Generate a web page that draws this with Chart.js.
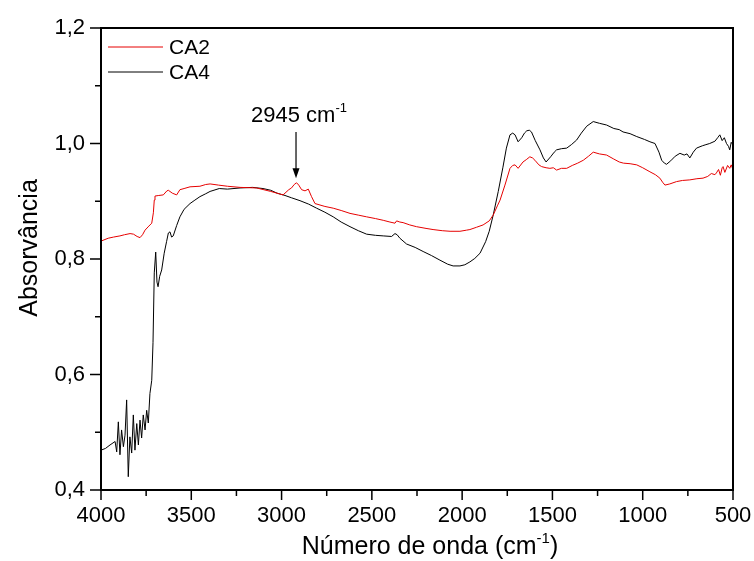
<!DOCTYPE html>
<html>
<head>
  <title>FTIR CA2 / CA4</title>
  <script src="https://cdn.jsdelivr.net/npm/chart.js"></script>
  <style>body { margin: 0; background: #fff; }</style>
</head>
<body>
  <canvas id="ftirChart" width="754" height="561"></canvas>

  <script>
    // CA2 (red) - wavenumber / absorbance
    const ca2Wave = [4000, 3960, 3930, 3895, 3870, 3839, 3820, 3800, 3784, 3770, 3756, 3735, 3719, 3710, 3705, 3701,
      3680, 3655, 3635, 3627, 3605, 3581, 3563, 3540, 3507, 3452, 3420, 3396, 3350, 3300, 3230, 3138, 3060, 2992,
      2981, 2960, 2945, 2930, 2917, 2905, 2889, 2870, 2852, 2834, 2815, 2760, 2714, 2670, 2621, 2575, 2529, 2480,
      2437, 2400, 2372, 2363, 2345, 2327, 2290, 2253, 2200, 2161, 2110, 2067, 2012, 1975, 1957, 1920, 1884, 1850,
      1828, 1805, 1790, 1763, 1735, 1720, 1707, 1690, 1663, 1645, 1625, 1610, 1597, 1575, 1560, 1535, 1514, 1495,
      1477, 1450, 1421, 1390, 1360, 1329, 1300, 1274, 1240, 1200, 1160, 1130, 1107, 1070, 1033, 1000, 960, 930,
      905, 890, 877, 850, 813, 780, 739, 700, 666, 640, 620, 600, 592, 580, 570, 560, 555, 545, 530, 518, 510, 500];
    const ca2Abs = [0.831, 0.836, 0.838, 0.840, 0.842, 0.844, 0.843, 0.839, 0.837, 0.842, 0.850, 0.857, 0.862, 0.880, 0.902, 0.909,
      0.910, 0.911, 0.918, 0.919, 0.914, 0.911, 0.920, 0.922, 0.925, 0.926, 0.929, 0.930, 0.928, 0.926, 0.924, 0.923, 0.917, 0.911,
      0.914, 0.920, 0.923, 0.929, 0.932, 0.928, 0.920, 0.918, 0.921, 0.908, 0.896, 0.891, 0.888, 0.884, 0.879, 0.876, 0.873, 0.870,
      0.867, 0.864, 0.862, 0.866, 0.864, 0.863, 0.859, 0.856, 0.853, 0.851, 0.849, 0.848, 0.848, 0.850, 0.851, 0.855, 0.859, 0.866,
      0.876, 0.892, 0.902, 0.928, 0.957, 0.962, 0.963, 0.957, 0.968, 0.972, 0.977, 0.975, 0.971, 0.963, 0.960, 0.958, 0.957, 0.958,
      0.954, 0.957, 0.957, 0.962, 0.966, 0.971, 0.978, 0.985, 0.982, 0.980, 0.973, 0.968, 0.966, 0.965, 0.963, 0.958, 0.951, 0.946,
      0.940, 0.933, 0.928, 0.930, 0.934, 0.936, 0.937, 0.939, 0.940, 0.943, 0.948, 0.946, 0.949, 0.955, 0.945, 0.958, 0.960, 0.950, 0.962, 0.957, 0.963, 0.955];

    // CA4 (black)
    const ca4Wave = [4000, 3975, 3950, 3922, 3913, 3904, 3895, 3886, 3876, 3867, 3858, 3849, 3840, 3830, 3821, 3812,
      3802, 3793, 3784, 3775, 3766, 3756, 3747, 3738, 3729, 3719, 3712, 3705, 3697, 3690, 3684, 3675, 3664, 3650,
      3637, 3627, 3618, 3609, 3600, 3581, 3563, 3540, 3507, 3480, 3452, 3420, 3396, 3345, 3300, 3230, 3160, 3103,
      3060, 3025, 2981, 2945, 2898, 2850, 2806, 2760, 2714, 2670, 2621, 2575, 2529, 2480, 2437, 2391, 2372, 2360,
      2345, 2308, 2260, 2216, 2170, 2123, 2080, 2050, 2012, 1985, 1957, 1930, 1901, 1870, 1850, 1828, 1800, 1774,
      1755, 1735, 1720, 1707, 1690, 1670, 1655, 1642, 1628, 1616, 1595, 1569, 1550, 1535, 1510, 1490, 1477, 1450,
      1421, 1395, 1366, 1340, 1310, 1274, 1240, 1200, 1160, 1130, 1109, 1070, 1033, 990, 960, 932, 910, 895, 880,
      868, 845, 820, 794, 770, 755, 739, 720, 702, 670, 650, 629, 600, 585, 573, 560, 548, 536, 525, 518, 510, 500];
    const ca4Abs = [0.469, 0.472, 0.478, 0.484, 0.466, 0.518, 0.461, 0.504, 0.475, 0.495, 0.556, 0.423, 0.492, 0.464, 0.530, 0.469,
      0.515, 0.478, 0.521, 0.490, 0.530, 0.504, 0.538, 0.516, 0.567, 0.590, 0.655, 0.776, 0.812, 0.760, 0.752, 0.770, 0.781, 0.810,
      0.830, 0.845, 0.847, 0.838, 0.840, 0.858, 0.873, 0.886, 0.896, 0.902, 0.908, 0.913, 0.917, 0.922, 0.921, 0.923, 0.924, 0.922,
      0.919, 0.914, 0.910, 0.906, 0.901, 0.895, 0.888, 0.881, 0.873, 0.864, 0.856, 0.849, 0.843, 0.841, 0.840, 0.839, 0.844, 0.842,
      0.836, 0.826, 0.820, 0.813, 0.806, 0.798, 0.791, 0.788, 0.788, 0.790, 0.795, 0.801, 0.810, 0.830, 0.848, 0.876, 0.917, 0.959,
      0.992, 1.015, 1.018, 1.015, 1.003, 1.010, 1.018, 1.022, 1.023, 1.020, 1.005, 0.989, 0.975, 0.968, 0.977, 0.985, 0.989, 0.991,
      0.992, 0.998, 1.006, 1.018, 1.030, 1.038, 1.035, 1.032, 1.026, 1.024, 1.020, 1.017, 1.012, 1.007, 1.003, 1.000, 0.985, 0.971, 0.966,
      0.964, 0.970, 0.978, 0.983, 0.980, 0.982, 0.975, 0.985, 0.992, 0.996, 0.998, 1.000, 1.004, 1.010, 1.015, 1.005, 1.010, 1.000, 0.995, 0.989, 1.002, 0.998];

    const seriesNames = ['CA2', 'CA4'];
    const seriesColors = ['#e60000', '#000000'];

    const xTicks = [4000, 3500, 3000, 2500, 2000, 1500, 1000, 500];
    const yTicks = [0.4, 0.6, 0.8, 1.0, 1.2];

    const xTitle = 'Número de onda (cm';
    const yTitle = 'Absorvância';

    // arrow annotation over the CA2 band
    const peakText = '2945 cm';
    const peakWave = 2920;
    const peakTail = 1.02;
    const peakTip = 0.94;

    const FONT = "'Liberation Sans', Arial, sans-serif";

    const toPoints = (xs, ys) => xs.map((x, i) => ({ x: x, y: ys[i] }));

    const decorPlugin = {
      id: 'decor',
      afterDraw(chart) {
        const { ctx, chartArea: a, scales: { x, y } } = chart;
        ctx.save();
        ctx.strokeStyle = '#000';
        ctx.fillStyle = '#000';

        // frame
        ctx.lineWidth = 2;
        ctx.strokeRect(a.left, a.top, a.right - a.left, a.bottom - a.top);

        // major + minor ticks
        ctx.lineWidth = 1.5;
        ctx.beginPath();
        xTicks.forEach((v, i) => {
          const px = x.getPixelForValue(v);
          ctx.moveTo(px, a.bottom); ctx.lineTo(px, a.bottom + 10);
          if (i < xTicks.length - 1) {
            const mx = x.getPixelForValue((v + xTicks[i + 1]) / 2);
            ctx.moveTo(mx, a.bottom); ctx.lineTo(mx, a.bottom + 6);
          }
        });
        yTicks.forEach((v, i) => {
          const py = y.getPixelForValue(v);
          ctx.moveTo(a.left, py); ctx.lineTo(a.left - 11, py);
          if (i < yTicks.length - 1) {
            const my = y.getPixelForValue((v + yTicks[i + 1]) / 2);
            ctx.moveTo(a.left, my); ctx.lineTo(a.left - 6, my);
          }
        });
        ctx.stroke();

        // x title with superscript
        ctx.font = '25px ' + FONT;
        const w1 = ctx.measureText(xTitle).width;
        ctx.font = '15px ' + FONT;
        const wSup = ctx.measureText('-1').width;
        ctx.font = '25px ' + FONT;
        const w2 = ctx.measureText(')').width;
        const tx = (a.left + a.right) / 2 + 13 - (w1 + wSup + w2) / 2;
        const ty = 554;
        ctx.textAlign = 'left';
        ctx.textBaseline = 'alphabetic';
        ctx.fillText(xTitle, tx, ty);
        ctx.font = '15px ' + FONT;
        ctx.fillText('-1', tx + w1, ty - 11);
        ctx.font = '25px ' + FONT;
        ctx.fillText(')', tx + w1 + wSup, ty);

        // y title
        ctx.save();
        ctx.translate(30, 248);
        ctx.rotate(-Math.PI / 2);
        ctx.textAlign = 'center';
        ctx.textBaseline = 'middle';
        ctx.fillText(yTitle, 0, 0);
        ctx.restore();

        // legend
        ctx.font = '21px ' + FONT;
        ctx.textBaseline = 'middle';
        ctx.lineWidth = 1;
        seriesNames.forEach((name, i) => {
          const ly = 47 + i * 25;
          ctx.strokeStyle = seriesColors[i];
          ctx.beginPath();
          ctx.moveTo(a.left + 7, ly); ctx.lineTo(a.left + 62, ly);
          ctx.stroke();
          ctx.fillText(name, a.left + 68, ly + 1);
        });

        // arrow annotation
        const ax = x.getPixelForValue(peakWave);
        const ay0 = y.getPixelForValue(peakTail);
        const ay1 = y.getPixelForValue(peakTip);
        ctx.strokeStyle = '#000';
        ctx.lineWidth = 1.2;
        ctx.beginPath();
        ctx.moveTo(ax, ay0); ctx.lineTo(ax, ay1 - 8);
        ctx.stroke();
        ctx.beginPath();
        ctx.moveTo(ax, ay1); ctx.lineTo(ax - 3.5, ay1 - 10); ctx.lineTo(ax + 3.5, ay1 - 10);
        ctx.closePath();
        ctx.fill();

        ctx.font = '22px ' + FONT;
        ctx.textBaseline = 'alphabetic';
        const pw = ctx.measureText(peakText).width;
        ctx.font = '13px ' + FONT;
        const psw = ctx.measureText('-1').width;
        const px0 = ax + 3 - (pw + psw) / 2;
        ctx.font = '22px ' + FONT;
        ctx.fillText(peakText, px0, ay0 - 10);
        ctx.font = '13px ' + FONT;
        ctx.fillText('-1', px0 + pw, ay0 - 20);

        ctx.restore();
      }
    };

    const canvas = document.getElementById('ftirChart');
    new Chart(canvas.getContext('2d'), {
      type: 'scatter',
      data: {
        datasets: [
          { label: seriesNames[0], data: toPoints(ca2Wave, ca2Abs), borderColor: seriesColors[0] },
          { label: seriesNames[1], data: toPoints(ca4Wave, ca4Abs), borderColor: seriesColors[1] }
        ].map(d => Object.assign(d, { showLine: true, pointRadius: 0, borderWidth: 1, tension: 0 }))
      },
      options: {
        responsive: false,
        animation: false,
        layout: { padding: { left: 0, top: 28, right: 21, bottom: 0 } },
        plugins: { legend: { display: false }, tooltip: { enabled: false } },
        scales: {
          x: {
            type: 'linear',
            reverse: true,
            min: 500,
            max: 4000,
            afterBuildTicks: s => { s.ticks = xTicks.map(v => ({ value: v })); },
            afterFit: s => { s.height = 71; s.paddingLeft = 0; s.paddingRight = 0; },
            grid: { display: false, drawTicks: false },
            border: { display: false },
            ticks: {
              color: '#000', padding: 13, maxRotation: 0, autoSkip: false, font: { family: FONT, size: 22 },
              callback: v => String(v)
            }
          },
          y: {
            min: 0.4,
            max: 1.2,
            afterBuildTicks: s => { s.ticks = yTicks.map(v => ({ value: v })); },
            afterFit: s => { s.width = 101; s.paddingTop = 0; s.paddingBottom = 0; },
            grid: { display: false, drawTicks: false },
            border: { display: false },
            ticks: {
              color: '#000', padding: 16, font: { family: FONT, size: 22 },
              callback: v => v.toFixed(1).replace('.', ',')
            }
          }
        }
      },
      plugins: [decorPlugin]
    });
  </script>
</body>
</html>
